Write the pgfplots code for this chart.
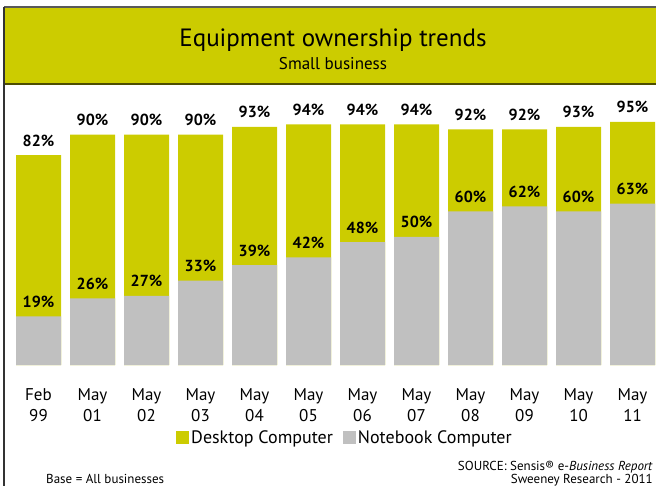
\documentclass[border=0pt]{standalone}
\usepackage{pgfplots}
\pgfplotsset{compat=1.18}
\usepackage{fontspec}
\setmainfont{PT Sans}
\definecolor{desk}{HTML}{CCCC00}
\definecolor{note}{HTML}{C0C0C0}
\definecolor{frame}{HTML}{333333}
\definecolor{olive}{HTML}{4D4D00}

\newcommand{\fs}[2]{\fontsize{#1bp}{#2bp}\selectfont}

\begin{document}
\begin{tikzpicture}
\path[use as bounding box] (0,0) rectangle (656bp,486bp);

% title banner
\fill[desk] (4bp,402bp) rectangle (656bp,479bp);
\draw[gray!70!black, line width=1.2bp] (4bp,479bp) -- (656bp,479bp);
\draw[olive, line width=1.2bp] (4bp,402bp) -- (656bp,402bp);
\draw[frame, line width=1.2bp] (4bp,0) -- (4bp,479bp);
\node[anchor=base, inner sep=0pt] at (333bp,439bp) {\fs{25}{28}Equipment ownership trends};
\node[anchor=base, inner sep=0pt] at (333bp,416bp) {\fs{17}{20}Small business};

\begin{axis}[
    at={(4bp,121bp)}, anchor=south west,
    scale only axis,
    width=652bp, height=256bp,
    xmin=-0.639, xmax=11.435,
    ymin=0, ymax=100,
    clip=false,
    ybar,
    bar width=45bp,
    axis line style={draw=none},
    tick style={draw=none},
    ytick=\empty,
    xtick={0,...,11},
    xticklabels={{Feb\\99},{May\\01},{May\\02},{May\\03},{May\\04},{May\\05},
                 {May\\06},{May\\07},{May\\08},{May\\09},{May\\10},{May\\11}},
    xticklabel style={align=center, anchor=north, inner sep=0pt, yshift=-19bp,
                      font=\fs{17}{21}},
    nodes near coords={\pgfmathprintnumber[fixed,precision=0,assume math mode=true]{\pgfplotspointmeta}\%},
    every node near coord/.append style={anchor=base, inner sep=0pt, yshift=9bp,
                      font=\bfseries\fs{16}{18}},
    legend columns=2,
    legend image code/.code={\fill[#1,draw=none] (0bp,-6.5bp) rectangle (13bp,6.5bp);},
    legend style={at={(0.523,-0.285)}, anchor=center, draw=none, fill=none,
                  font=\fs{18}{20}, inner sep=0pt,
                  /tikz/every even column/.append style={column sep=8bp}},
]
\addplot[fill=desk, draw=none, bar shift=0pt] coordinates {
    (0,82) (1,90) (2,90) (3,90) (4,93) (5,94)
    (6,94) (7,94) (8,92) (9,92) (10,93) (11,95)
};
\addlegendentry{Desktop Computer}
\addplot[fill=note, draw=none, bar shift=0pt] coordinates {
    (0,19) (1,26) (2,27) (3,33) (4,39) (5,42)
    (6,48) (7,50) (8,60) (9,62) (10,60) (11,63)
};
\addlegendentry{Notebook Computer}
\end{axis}

% footer texts
\node[anchor=base east, inner sep=0pt] at (653bp,16bp)
    {\fs{13}{15}SOURCE: Sensis® e-\textit{Business Report}};
\node[anchor=base east, inner sep=0pt] at (653bp,3bp)
    {\fs{13}{15}Sweeney Research - 2011};
\node[anchor=base west, inner sep=0pt] at (46bp,3bp)
    {\fs{13}{15}Base = All businesses};
\end{tikzpicture}
\end{document}
